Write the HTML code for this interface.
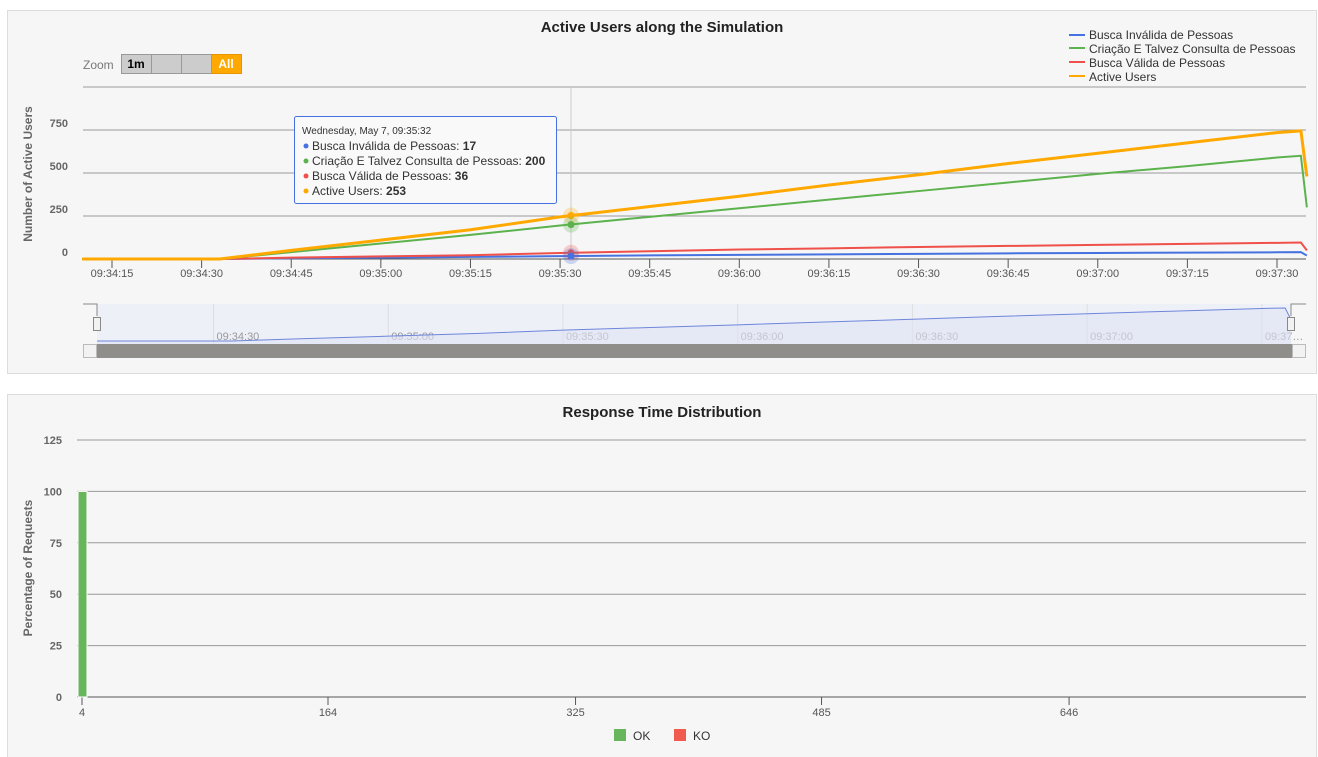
<!DOCTYPE html>
<html><head><meta charset="utf-8">
<style>
body{margin:0;width:1318px;height:757px;background:#fff;font-family:"Liberation Sans",sans-serif;overflow:hidden}
svg{position:absolute;left:0;top:0}
</style></head>
<body>
<svg id="s" width="1318" height="757" font-family="Liberation Sans, sans-serif">
<rect x="7.5" y="10.5" width="1309" height="363" fill="#f6f6f6" stroke="#ddd"/>
<rect x="7.5" y="394.5" width="1309" height="370" fill="#f6f6f6" stroke="#ddd"/>
<text x="662" y="32" text-anchor="middle" font-size="15" font-weight="bold" fill="#222">Active Users along the Simulation</text>
<text x="662" y="417" text-anchor="middle" font-size="15" font-weight="bold" fill="#222">Response Time Distribution</text>
<g>
<text x="83" y="69" font-size="12" fill="#777">Zoom</text>
<rect x="121.5" y="54.5" width="30" height="19" fill="#ccc" stroke="#999"/>
<text x="136" y="68" text-anchor="middle" font-size="12" font-weight="bold" fill="#000">1m</text>
<rect x="151.5" y="54.5" width="30" height="19" fill="#ccc" stroke="#999"/>
<rect x="181.5" y="54.5" width="30" height="19" fill="#ccc" stroke="#999"/>
<rect x="211.5" y="54.5" width="30" height="19" fill="#ffa900" stroke="#e69500"/>
<text x="226" y="68" text-anchor="middle" font-size="12" font-weight="bold" fill="#fff">All</text>
</g>
<g font-size="12" fill="#333">
<line x1="1069" y1="35" x2="1085" y2="35" stroke="#4572e0" stroke-width="2"/><text x="1089" y="39">Busca Inválida de Pessoas</text>
<line x1="1069" y1="48" x2="1085" y2="48" stroke="#5cb24d" stroke-width="2"/><text x="1089" y="53">Criação E Talvez Consulta de Pessoas</text>
<line x1="1069" y1="62" x2="1085" y2="62" stroke="#f0504a" stroke-width="2"/><text x="1089" y="67">Busca Válida de Pessoas</text>
<line x1="1069" y1="76" x2="1085" y2="76" stroke="#ffa900" stroke-width="2"/><text x="1089" y="81">Active Users</text>
</g>
<text transform="translate(32,174) rotate(-90)" text-anchor="middle" font-size="12" font-weight="bold" fill="#666">Number of Active Users</text>
<text transform="translate(32,568) rotate(-90)" text-anchor="middle" font-size="12" font-weight="bold" fill="#666">Percentage of Requests</text>
<g id="g1"></g><g id="g2"></g>
</svg>
<script>
// Active users chart data (seconds since 09:34:00)
const times=[10,25,33,45,60,75,90,105,120,135,150,165,180,195,210,214,215];
const activeUsers=[0,0,0,50,110,170,245,305,365,430,490,555,615,675,735,745,480];
const criacao=[0,0,0,40,90,140,195,245,295,345,395,445,495,540,590,600,300];
const buscaValida=[0,0,0,8,15,22,35,45,55,62,70,76,82,88,94,96,50];
const buscaInvalida=[0,0,0,4,8,12,17,21,24,27,30,33,35,37,39,40,20];
const yTicks=[0,250,500,750,1000];
const xTickSecs=[15,30,45,60,75,90,105,120,135,150,165,180,195,210];
const xTickLabels=["09:34:15","09:34:30","09:34:45","09:35:00","09:35:15","09:35:30","09:35:45","09:36:00","09:36:15","09:36:30","09:36:45","09:37:00","09:37:15","09:37:30"];
const navTickSecs=[30,60,90,120,150,180,210];
const navTickLabels=["09:34:30","09:35:00","09:35:30","09:36:00","09:36:30","09:37:00","09:37…"];
// Response time distribution
const rtCategories=[4];
const rtOk=[100];
const rtKo=[0];
const rtTicks=[0,25,50,75,100,125];
const rtXTicks=[4,164,325,485,646];

const NS="http://www.w3.org/2000/svg";
function mk(p,t,a){const e=document.createElementNS(NS,t);for(const k in a)e.setAttribute(k,a[k]);p.appendChild(e);return e;}
const g1=document.getElementById('g1'),g2=document.getElementById('g2');
const X=s=>112+(s-15)*(1277-112)/195;
const Y=v=>259-v*43/250;
yTicks.forEach((v,i)=>{
 const l=mk(g1,'line',{x1:83,x2:1306,y1:Y(v),y2:Y(v),stroke:v===0?'#555':'#999','stroke-width':1});
 
 
 if(v<1000){const t=mk(g1,'text',{x:68,y:Y(v)-3,'text-anchor':'end','font-size':11,'font-weight':'bold',fill:'#666'});t.textContent=v;
 
 }
});
xTickSecs.forEach((s,i)=>{
 const l=mk(g1,'line',{x1:X(s),x2:X(s),y1:259,y2:268,stroke:'#555'});
 
 
 const t=mk(g1,'text',{x:X(s),y:277,'text-anchor':'middle','font-size':11,fill:'#555'});t.textContent=xTickLabels[i];
 
 
});
// crosshair
const ch=mk(g1,'line',{x1:571,x2:571,y1:88,y2:259,stroke:'#ccc'});


function pts(arr){return times.map((s,i)=>X(s)+','+Y(arr[i])).join(' ');}
[[buscaInvalida,'#4572e0',2,'line-busca-invalida'],[buscaValida,'#f0504a',2,'line-busca-valida'],[criacao,'#5cb24d',2,'line-criacao'],[activeUsers,'#ffa900',3,'line-active-users']].forEach(([a,c,w,n])=>{
 const p=mk(g1,'polyline',{points:pts(a),fill:'none',stroke:c,'stroke-width':w});
 
 
});
// hover markers
[[253,'#ffa900'],[200,'#5cb24d'],[36,'#f0504a'],[17,'#4572e0']].forEach(([v,c])=>{
 const h=mk(g1,'circle',{cx:571,cy:Y(v),r:8,fill:c,opacity:0.25});
 
 
 const m=mk(g1,'circle',{cx:571,cy:Y(v),r:3.5,fill:c});
 
 
});
// tooltip
const tg=mk(g1,'g',{});


mk(tg,'rect',{x:294.5,y:116.5,width:262,height:87,fill:'#f9f9f9',stroke:'#4572e0',rx:2});
const tt=mk(tg,'text',{x:302,y:134,'font-size':10,fill:'#333'});tt.textContent='Wednesday, May 7, 09:35:32';
[['#4572e0','Busca Inválida de Pessoas: ','17'],['#5cb24d','Criação E Talvez Consulta de Pessoas: ','200'],['#f0504a','Busca Válida de Pessoas: ','36'],['#ffa900','Active Users: ','253']].forEach((r,i)=>{
 const y=150+i*15;
 mk(tg,'circle',{cx:306,cy:y-4,r:2.5,fill:r[0]});
 const t=mk(tg,'text',{x:312,y:y,'font-size':12,fill:'#333'});
 t.textContent=r[1];
 const b=mk(t,'tspan',{'font-weight':'bold'});b.textContent=r[2];
});
// navigator
const NX=s=>97+(s-10)*(1291-97)/205;
const NY=v=>341-v*33/745;
const nav=mk(g1,'g',{});


mk(nav,'rect',{x:97,y:304,width:1194,height:40,fill:'#eef0f8'});
navTickSecs.forEach((s,i)=>{
 mk(nav,'line',{x1:NX(s),x2:NX(s),y1:304,y2:344,stroke:'#ddd'});
 const t=mk(nav,'text',{x:NX(s)+3,y:340,'font-size':11,fill:'#999'});t.textContent=navTickLabels[i];
});
const np=times.map((s,i)=>NX(s)+','+NY(activeUsers[i])).join(' ');
mk(nav,'polygon',{points:NX(times[0])+',344 '+np+' '+NX(times[times.length-1])+',344',fill:'#dfe3f3',opacity:0.6});
mk(nav,'polyline',{points:np,fill:'none',stroke:'#6e86db','stroke-width':1});
mk(nav,'polyline',{points:'83,304 97,304 97,316',fill:'none',stroke:'#888'});
mk(nav,'rect',{x:93.5,y:317.5,width:7,height:13,fill:'#f2f2f2',stroke:'#888'});
mk(nav,'rect',{x:1287.5,y:317.5,width:7,height:13,fill:'#f2f2f2',stroke:'#888'});
mk(nav,'polyline',{points:'1291,316 1291,304 1306,304',fill:'none',stroke:'#888'});
const sb=mk(g1,'rect',{x:83,y:344,width:1223,height:14,fill:'#8f8e8a'});


mk(g1,'rect',{x:83.5,y:344.5,width:13,height:13,fill:'#f2f2f2',stroke:'#bbb'});
mk(g1,'rect',{x:1292.5,y:344.5,width:13,height:13,fill:'#f2f2f2',stroke:'#bbb'});

// response time chart
const RX=v=>82+(v-4)*(328-82)/160;
const RY=v=>697-v*(697-440)/125;
rtTicks.forEach(v=>{
 const l=mk(g2,'line',{x1:77,x2:1306,y1:RY(v),y2:RY(v),stroke:v===0?'#555':'#999'});
 
 
 const t=mk(g2,'text',{x:62,y:RY(v)+4,'text-anchor':'end','font-size':11,'font-weight':'bold',fill:'#666'});t.textContent=v;
 
 
});
rtXTicks.forEach(v=>{
 const l=mk(g2,'line',{x1:RX(v),x2:RX(v),y1:697,y2:705,stroke:'#555'});
 
 
 const t=mk(g2,'text',{x:RX(v),y:716,'text-anchor':'middle','font-size':11,fill:'#555'});t.textContent=v;
 
 
});
rtCategories.forEach((c,i)=>{
 const b=mk(g2,'rect',{x:RX(c)-4,y:RY(rtOk[i]),width:9,height:697-RY(rtOk[i]),fill:'#68b65c',stroke:'#fff','stroke-width':1});
 
 
 if(rtKo[i]>0){const k=mk(g2,'rect',{x:RX(c)-4,y:RY(rtOk[i]+rtKo[i]),width:9,height:RY(rtOk[i])-RY(rtOk[i]+rtKo[i]),fill:'#f15b4f'});
 
 }
});
const lg=mk(g2,'g',{});


mk(lg,'rect',{x:614,y:729,width:12,height:12,fill:'#68b65c'});
const ok=mk(lg,'text',{x:633,y:740,'font-size':12,fill:'#333'});ok.textContent='OK';


mk(lg,'rect',{x:674,y:729,width:12,height:12,fill:'#f15b4f'});
const ko=mk(lg,'text',{x:693,y:740,'font-size':12,fill:'#333'});ko.textContent='KO';


</script>
</body></html>
